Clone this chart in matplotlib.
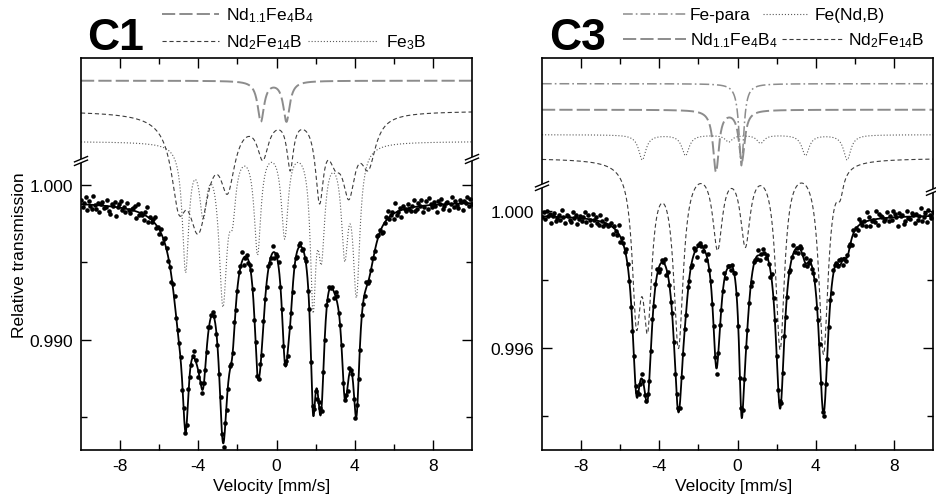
import numpy as np
import matplotlib
matplotlib.use('Agg')
import matplotlib.pyplot as plt
from matplotlib.lines import Line2D
from matplotlib.patches import Polygon
from matplotlib.ticker import FixedLocator, FixedFormatter
import matplotlib.transforms as mtransforms

plt.rcParams['font.family'] = ['Liberation Sans', 'DejaVu Sans']
plt.rcParams['mathtext.fontset'] = 'custom'
plt.rcParams['mathtext.rm'] = 'Liberation Sans'
plt.rcParams['mathtext.it'] = 'Liberation Sans:italic'
plt.rcParams['mathtext.bf'] = 'Liberation Sans:bold'
plt.rcParams['lines.scale_dashes'] = False
plt.rcParams['axes.unicode_minus'] = False

# ------------------------------------------------------------------
# DATA  (line positions in mm/s, depths in units of 1e-4 of transmission,
#        widths = FWHM in mm/s)
# ------------------------------------------------------------------
# ---- sample C1 ----
C1_BASE = 0.99893
C1_ND4_OFF = 1.00671
C1_ND4_POS = [-0.80, 0.51]
C1_ND4_DEP = [26, 26]
C1_ND4_WID = [0.40, 0.40]

C1_ND2_OFF = 1.00477
C1_ND2_POS = [-5.0, -4.0, -2.5, -0.7, 0.7, 2.2, 3.0, 3.7, 4.7]
C1_ND2_DEP = [45, 68, 40, 25, 32, 50, 20, 45, 30]
C1_ND2_WID = [0.9, 1.3, 0.9, 0.7, 0.4, 0.5, 0.8, 0.8, 0.9]

C1_FE3B_OFF = 1.00280
C1_FE3B_POS = [-4.65, -3.75, -2.74, -2.25, -0.97, 0.42, 1.87, 2.30, 3.49, 4.09]
C1_FE3B_DEP = [80, 40, 98, 32, 68, 58, 95, 62, 64, 92]
C1_FE3B_WID = [0.40, 0.45, 0.50, 0.40, 0.42, 0.42, 0.34, 0.42, 0.42, 0.42]

# ---- sample C3 ----
C3_BASE = 0.99990
C3_PARA_OFF = 1.003734
C3_PARA_POS = [0.20]
C3_PARA_DEP = [24]
C3_PARA_WID = [0.30]

C3_ND4_OFF = 1.002973
C3_ND4_POS = [-1.10, 0.22]
C3_ND4_DEP = [18, 15]
C3_ND4_WID = [0.36, 0.36]

C3_FENDB_OFF = 1.002241
C3_FENDB_POS = [-4.87, -2.66, -0.45, 1.18, 3.48, 5.61]
C3_FENDB_DEP = [7.3, 6.0, 2.0, 2.4, 6.0, 7.3]
C3_FENDB_WID = [0.45, 0.45, 0.45, 0.45, 0.45, 0.45]

C3_ND2_OFF = 1.001560
C3_ND2_POS = [-5.17, -4.60, -3.02, -1.02, 0.40, 2.18, 4.40, 5.25]
C3_ND2_DEP = [41, 42, 53, 24, 23, 54, 56, 6]
C3_ND2_WID = [0.52, 0.55, 0.60, 0.60, 0.60, 0.55, 0.58, 0.40]

# measured scatter of the data points around the fit (arbitrary units)
NOISE = [
    4, -2, 1, 6, -5, 3, -1, -4, 8, 0, -3, 2, -6, 1, 3, -2,
    -1, 5, -4, -7, 2, 1, 4, -8, 0, 3, 6, -2, 1, -3, 5, -1,
    -3, 1, 2, 4, -6, 7, -2, 0, -1, -5, 3, 8, -4, 1, -2, 2,
    5, -3, 0, -4, 3, -6, 1, 6, 2, -3, -1, -5, 4, 5, -2, 0,
    1, 3, -7, 2, -1, -2, 5, -4, -3, 1, 6, 2, -8, 3, 0, -3,
    2, -1, -3, 5, -4, 1, 3, 2, -5, 0, -2, 7, 1, -4, 3, -6,
    -5, 4, 0, -1, 6, -3, -2, 3, 1, 8, -6, -1, 2, -3, 0, 4,
    1, -4, 5, -2, 0, 3, -7, 1, 2, -3, 4, -1, -2, 6, -5, 0,
    3, 6, -2, 1, -4, 0, 2, -6, 5, -1, -3, 4, 0, -5, 2, 3,
    -2, 1, -1, 5, -6, 4, -3, 0, 3, 2, -8, 1, 6, -4, 1, -2,
    6, -3, 2, -1, 1, -5, 4, 5, -2, 0, 3, -4, -1, 2, -6, 5,
    0, 2, -4, -3, 6, 1, -5, 3, -1, -2, 5, 0, -3, 1, 4, -2,
    -3, 5, 1, 2, -4, -6, 0, 3, 7, -2, 1, 2, -5, 8, -3, -1,
    2, -6, 3, 0, -2, 4, -1, -3, 1, 6, -4, -2, 3, 0, 5, -5,
    -1, 4, -3, 6, 1, -2, 2, -1, -6, 3, 0, 5, -4, -2, 1, 2,
    -5, 0, 6, -3, 2, -1, -4, 3, 1, -6, 2, 0, 5, -2, 4, -1,
]
C1_NOISE_UNIT = 0.75e-4
C3_NOISE_UNIT = 0.32e-4

V_RANGE = (-10.0, 10.0)
N_CHANNELS = len(NOISE)

# ------------------------------------------------------------------
W, H = 936, 502
fig = plt.figure(figsize=(W / 100, H / 100), dpi=100)


def px_axes(l, r, t, b):
    return [l / W, 1 - b / H, (r - l) / W, (b - t) / H]


ax1 = fig.add_axes(px_axes(81, 472, 59, 451))
ax3 = fig.add_axes(px_axes(542, 933, 59, 451))


def absorb(v, pos, dep, wid):
    out = np.zeros_like(v)
    for p, d, w in zip(pos, dep, wid):
        out += d / (1.0 + ((v - p) / (w / 2.0)) ** 2)
    return out * 1e-4


LONG = dict(color='#8c8c8c', lw=1.4, dashes=(9.5, 3.0))
SHORT = dict(color='#3c3c3c', lw=0.8, dashes=(3.0, 2.0))
DOT = dict(color='#5a5a5a', lw=0.8, dashes=(0.8, 1.4))
DASHDOT = dict(color='#8c8c8c', lw=1.1, dashes=(7.0, 2.2, 1.2, 2.2))

v_fine = np.linspace(V_RANGE[0], V_RANGE[1], 1201)
v_ch = np.linspace(V_RANGE[0], V_RANGE[1], N_CHANNELS)
noise = np.array(NOISE, dtype=float)


def panel(ax, base, comps, noise_vals, unit):
    total_f = np.full_like(v_fine, base)
    total_c = np.full_like(v_ch, base)
    for off, pos, dep, wid, sty in comps:
        a = absorb(v_fine, pos, dep, wid)
        ax.plot(v_fine, off - a, zorder=2, **sty)
        total_f -= a
        total_c -= absorb(v_ch, pos, dep, wid)
    data = total_c + noise_vals * unit
    ax.plot(v_ch, data, 'o', ms=3.3, color='black', mew=0, zorder=3)
    ax.plot(v_fine, total_f, color='black', lw=1.3, zorder=4)


panel(ax1, C1_BASE, [
    (C1_ND4_OFF, C1_ND4_POS, C1_ND4_DEP, C1_ND4_WID, LONG),
    (C1_ND2_OFF, C1_ND2_POS, C1_ND2_DEP, C1_ND2_WID, SHORT),
    (C1_FE3B_OFF, C1_FE3B_POS, C1_FE3B_DEP, C1_FE3B_WID, DOT),
], noise, C1_NOISE_UNIT)

panel(ax3, C3_BASE, [
    (C3_PARA_OFF, C3_PARA_POS, C3_PARA_DEP, C3_PARA_WID, DASHDOT),
    (C3_ND4_OFF, C3_ND4_POS, C3_ND4_DEP, C3_ND4_WID, LONG),
    (C3_FENDB_OFF, C3_FENDB_POS, C3_FENDB_DEP, C3_FENDB_WID, DOT),
    (C3_ND2_OFF, C3_ND2_POS, C3_ND2_DEP, C3_ND2_WID, SHORT),
], noise[::-1], C3_NOISE_UNIT)

ax1.set_ylim(0.982884, 1.008174)
ax3.set_ylim(0.993015, 1.004486)

for ax, ymaj, ymin in ((ax1, [0.990, 1.000], [0.985, 0.995]),
                       (ax3, [0.996, 1.000], [0.994, 0.998])):
    ax.set_xlim(*V_RANGE)
    ax.xaxis.set_major_locator(FixedLocator([-8, -4, 0, 4, 8]))
    ax.xaxis.set_major_formatter(FixedFormatter(['-8', '-4', '0', '4', '8']))
    ax.xaxis.set_minor_locator(FixedLocator([-6, -2, 2, 6]))
    ax.yaxis.set_major_locator(FixedLocator(ymaj))
    ax.yaxis.set_major_formatter(FixedFormatter(['%.3f' % y for y in ymaj]))
    ax.yaxis.set_minor_locator(FixedLocator(ymin))
    ax.tick_params(which='both', direction='in', top=True, right=True,
                   width=1.0, labelsize=12.5)
    ax.tick_params(which='major', length=7.2)
    ax.tick_params(which='minor', length=4.3)
    ax.tick_params(axis='x', pad=6)
    ax.tick_params(axis='y', pad=5.5)
    for s in ax.spines.values():
        s.set_linewidth(1.2)

fig.text(20 / W, 1 - 255 / H, 'Relative transmission', rotation=90,
         ha='center', va='center', fontsize=12.5)
fig.text(272 / W, 1 - 487 / H, 'Velocity [mm/s]', ha='center', va='center',
         fontsize=12.5)
fig.text(734 / W, 1 - 487 / H, 'Velocity [mm/s]', ha='center', va='center',
         fontsize=12.5)

# titles
fig.text(87 / W, 1 - 50 / H, 'C1', fontsize=32, fontweight='bold',
         ha='left', va='baseline')
fig.text(549 / W, 1 - 50 / H, 'C3', fontsize=32, fontweight='bold',
         ha='left', va='baseline')


def legend_item(x0, x1, y, sty, label, tx):
    fig.add_artist(Line2D([x0 / W, x1 / W], [1 - y / H, 1 - y / H],
                          transform=fig.transFigure, **sty))
    fig.text(tx / W, 1 - (y + 5) / H, label, fontsize=12.5, ha='left',
             va='baseline')


ND4 = r'Nd$_{1.1}$Fe$_4$B$_4$'
ND2 = r'Nd$_2$Fe$_{14}$B'
legend_item(162, 219, 15, LONG, ND4, 226)
legend_item(162, 219, 42, SHORT, ND2, 226)
legend_item(308, 377, 42, DOT, r'Fe$_3$B', 386)

legend_item(623, 686, 15, DASHDOT, 'Fe-para', 690)
legend_item(763, 808, 15, DOT, 'Fe(Nd,B)', 815)
legend_item(623, 686, 40, LONG, ND4, 690)
legend_item(782, 843, 40, SHORT, ND2, 848)


# axis-break marks
def draw_break(ax, xfrac, yval):
    tr = mtransforms.blended_transform_factory(ax.transAxes, ax.transData)
    X, Y = tr.transform((xfrac, yval))
    inv = fig.transFigure.inverted()
    dx, dy, g = 6.5, 2.7, 1.8
    top = [(X - dx, Y - dy + g), (X + dx, Y + dy + g)]
    bot = [(X - dx, Y - dy - g), (X + dx, Y + dy - g)]
    poly = [top[0], top[1], bot[1], bot[0]]
    fig.add_artist(Polygon(inv.transform(poly), closed=True,
                           transform=fig.transFigure, fc='white', ec='none',
                           zorder=10))
    for seg in (top, bot):
        pts = inv.transform(seg)
        fig.add_artist(Line2D(pts[:, 0], pts[:, 1], transform=fig.transFigure,
                              color='black', lw=1.0, zorder=11))


C1_BREAK_Y = (1.00153, 1.00166)
C3_BREAK_Y = (1.00074, 1.00060)
draw_break(ax1, 0.0, C1_BREAK_Y[0])
draw_break(ax1, 1.0, C1_BREAK_Y[1])
draw_break(ax3, 0.0, C3_BREAK_Y[0])
draw_break(ax3, 1.0, C3_BREAK_Y[1])

fig.savefig('out.png', dpi=100)
